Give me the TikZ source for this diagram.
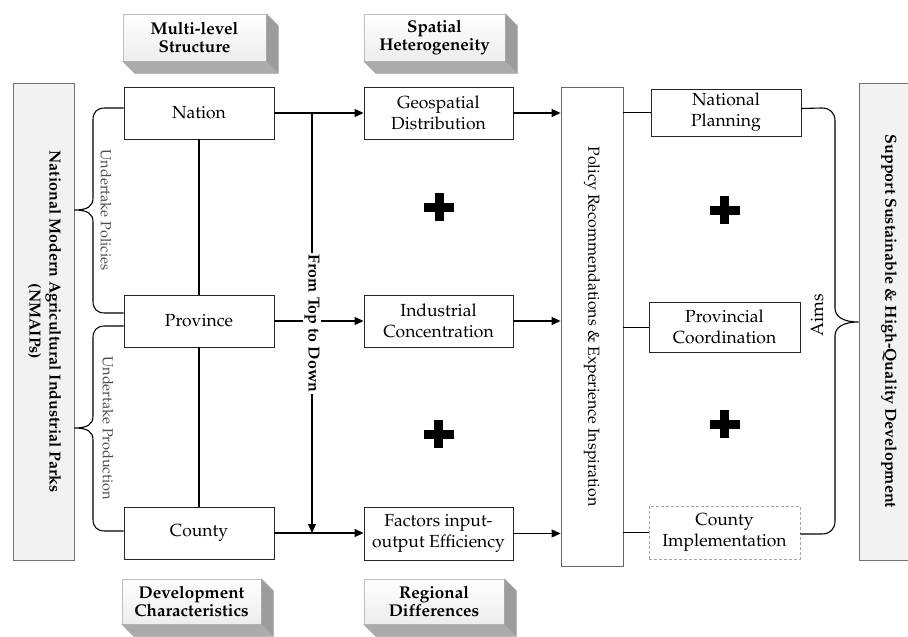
\documentclass[tikz,border=0pt]{standalone}
\usepackage[T1]{fontenc}
\usepackage{mathpazo}
\usepackage{graphicx}
\usetikzlibrary{arrows.meta,calc}
\definecolor{panelgray}{HTML}{F2F2F2}
\definecolor{cubeR}{HTML}{9C9C9C}
\definecolor{cubeB}{HTML}{ABABAB}
\newcommand\cubeshadow[1]{%
  \fill[cubeR] (#1.north east) -- ([shift={(12,12)}]#1.north east) -- ([shift={(12,12)}]#1.south east) -- (#1.south east) -- cycle;
  \fill[cubeB] (#1.south west) -- (#1.south east) -- ([shift={(12,12)}]#1.south east) -- ([shift={(12,12)}]#1.south west) -- cycle;
  \draw[black!35, line width=0.5pt] (#1.north east) -- ([shift={(12,12)}]#1.north east) -- ([shift={(12,12)}]#1.south east) -- ([shift={(12,12)}]#1.south west) -- (#1.south west);
  \draw[black!35, line width=0.5pt] (#1.south east) -- ([shift={(12,12)}]#1.south east);
}
\begin{document}
\begin{tikzpicture}[x=1pt,y=-1pt,
  every node/.style={font=\fontsize{17.5}{21}\selectfont},
  box/.style={draw=black!85, line width=0.9pt, fill=white, align=center, inner sep=0pt,
    minimum width=150pt, minimum height=52pt},
  panel/.style={draw=black!55, line width=0.9pt, fill=panelgray, inner sep=0pt,
    font=\fontsize{16}{20}\selectfont},
  hdr/.style={draw=black!25, line width=0.6pt, top color=white, bottom color=black!7,
    align=center, inner sep=0pt, minimum height=47pt,
    font=\fontsize{17}{18}\selectfont\bfseries},
  conn/.style={line width=1.1pt, black},
  arr/.style={conn, -{Triangle[length=9pt,width=8pt]}},
  side/.style={text=black!70, inner sep=1pt, font=\fontsize{14.5}{16}\selectfont},
  crosssign/.pic={\fill (-15,-4.5) rectangle (15,4.5); \fill (-4.5,-14) rectangle (4.5,14);}
]
\useasboundingbox (0,0) rectangle (908,637);

% headers
\node[hdr, minimum width=143pt] (h1) at (194.5,37.5) {Multi-level\\Structure};
\node[hdr, minimum width=141pt] (h2) at (434.5,37.5) {Spatial\\Heterogeneity};
\node[hdr, minimum width=139pt, minimum height=45pt] (h3) at (191.5,601.5) {Development\\Characteristics};
\node[hdr, minimum width=140pt, minimum height=45pt] (h4) at (434,601.5) {Regional\\Differences};
\cubeshadow{h1}\cubeshadow{h2}\cubeshadow{h3}\cubeshadow{h4}

% side panels
\node[panel, minimum width=61pt, minimum height=477pt] (lbox) at (43.5,321.5)
  {\rotatebox{-90}{\bfseries\begin{tabular}{@{}c@{}}National Modern Agricultural Industrial Parks\\(NMAIPs)\end{tabular}}};
\begin{scope}
\clip (0,0) rectangle (908,637);
\node[panel, minimum width=60pt, minimum height=477pt] (rbox) at (889,321.5)
  {\rotatebox{-90}{\bfseries Support Sustainable \& High-Quality Development}};
\end{scope}

% left column
\node[box] (nation) at (199,113) {Nation};
\node[box] (province) at (199,321) {Province};
\node[box] (county) at (199,533) {County};

% middle column
\node[box, minimum width=149pt] (geo) at (438.5,113) {Geospatial\\Distribution};
\node[box, minimum width=149pt] (ind) at (438.5,321) {Industrial\\Concentration};
\node[box, minimum width=149pt, minimum height=53pt] (fac) at (438.5,533.5) {Factors input-\\output Efficiency};

% policy box
\node[box, draw=black!60, minimum width=62pt, minimum height=479pt, font=\fontsize{16}{20}\selectfont] (policy) at (592,326.5)
  {\rotatebox{-90}{Policy Recommendations \& Experience Inspiration}};

% right column
\node[box, minimum height=47pt] (np) at (726,112.5) {National\\Planning};
\node[box, minimum width=151pt, minimum height=50pt] (pc) at (724.5,327) {Provincial\\Coordination};
\node[box, draw=black!35, dashed, dash pattern=on 3pt off 2pt, minimum width=151pt, minimum height=53pt] (ci) at (724.5,532.5) {County\\Implementation};

% left vertical links
\draw[conn] (nation.south) -- (province.north);
\draw[conn] (province.south) -- (county.north);

% left to middle
\coordinate (vtx) at (312,0);
\draw[arr] (nation.east) -- (geo.west);
\draw[arr] (vtx |- nation.east) -- (vtx |- county.east);
\draw[arr] (province.east) -- (ind.west);
\draw[arr] (county.east) -- (county.east -| fac.west);
\node[fill=white, inner sep=2pt, font=\fontsize{16}{20}\selectfont\bfseries] (ftd) at (312,323.5) {\rotatebox{-90}{From Top to Down}};

% middle to policy
\draw[arr] (geo.east) -- (geo.east -| policy.west);
\draw[arr] (ind.east) -- (ind.east -| policy.west);
\draw[arr] (fac.east) -- (fac.east -| policy.west);

% policy to right
\draw[conn, line width=0.9pt] (policy.east |- np.west) -- (np.west);
\draw[conn, line width=0.9pt] (policy.east |- pc.west) -- (pc.west);
\draw[conn, line width=0.9pt] (policy.east |- ci.west) -- (ci.west);

% left braces
\draw[conn] ([yshift=5pt]nation.west) -- (105,108) .. controls (97,108) and (93,112) .. (93,120)
  -- (93,198) .. controls (93,206) and (88,210) .. (lbox.east |- 0,210)
  .. controls (88,210) and (93,214) .. (93,222) -- (93,301)
  .. controls (93,309) and (97,313) .. (105,313) -- ([yshift=8pt]province.west);
\draw[conn] ([yshift=-5pt]province.west) -- (105,326) .. controls (97,326) and (93,330) .. (93,338)
  -- (93,416) .. controls (93,424) and (88,428) .. (lbox.east |- 0,428)
  .. controls (88,428) and (93,432) .. (93,440) -- (93,519)
  .. controls (93,527) and (97,531) .. (105,531) -- ([yshift=2pt]county.west);
\node[side] (up) at (106,210) {\rotatebox{-90}{Undertake Policies}};
\node[side] (upr) at (108,428) {\rotatebox{-90}{Undertake Production}};

% right brace
\draw[conn] ([yshift=4pt]np.east) -- (822,108) .. controls (830,108) and (835,113) .. (835,121)
  -- (835,308) .. controls (835,316) and (842,322) .. (rbox.west |- 0,322)
  .. controls (842,322) and (835,328) .. (835,336) -- (835,521)
  .. controls (835,529) and (830,534) .. (822,534) -- ([yshift=-1.5pt]ci.east);
\node[font=\fontsize{18}{20}\selectfont] (aims) at (817,315) {\rotatebox{90}{Aims}};

% plus signs
\pic at (439,207) {crosssign};
\pic at (438.5,434) {crosssign};
\pic at (724.5,210) {crosssign};
\pic at (724.5,424) {crosssign};
\end{tikzpicture}
\end{document}
